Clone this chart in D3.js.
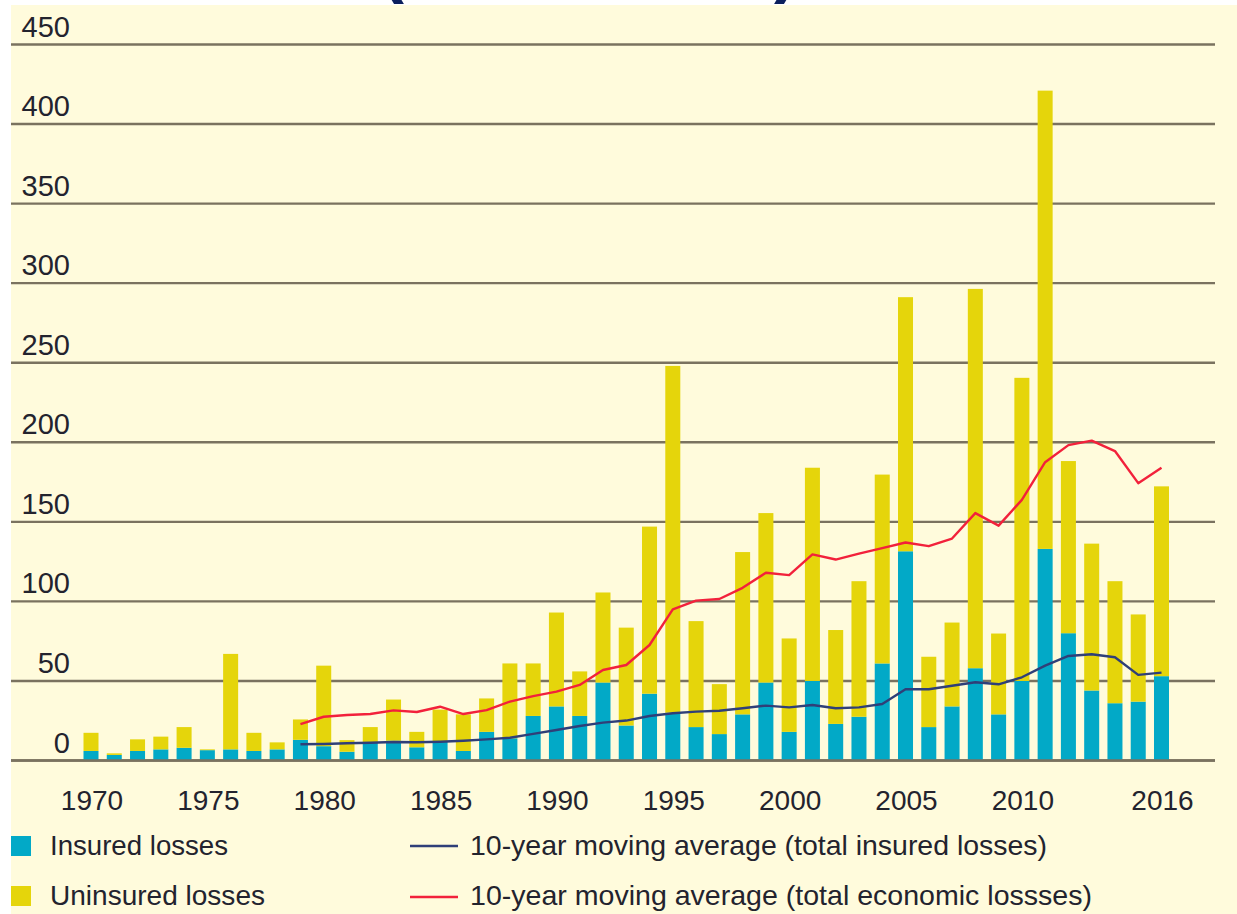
<!DOCTYPE html>
<html>
<head>
<meta charset="utf-8">
<script src="https://cdn.jsdelivr.net/npm/d3@7/dist/d3.min.js"></script>
<style>
  html, body { margin: 0; padding: 0; background: #ffffff; }
  svg { display: block; }
  text { font-family: "Liberation Sans", Arial, Helvetica, sans-serif; fill: #23232e; }
</style>
</head>
<body>
<svg id="chart" width="1237" height="914"></svg>
<script>
// ---- Data (USD bn) ----
const years = d3.range(1970, 2017);
const insured = [6, 3.5, 6, 7, 8, 6.5, 7, 6, 7, 13,
  9, 5.5, 11, 12.5, 8.3, 12, 6, 18, 14, 28,
  34, 28, 49, 22, 42, 30, 21, 16.6, 29, 49,
  18, 50, 23, 27.5, 61, 131.5, 21, 34, 58, 29,
  50, 133, 80, 44, 36, 37, 53];
const uninsured = [11.4, 1, 7.3, 8, 13, 0.5, 60, 11.4, 4.4, 12.8,
  50.6, 7.3, 10, 25.8, 9.7, 20, 23, 21, 47, 33,
  59, 28, 56.6, 61.5, 105, 218, 66.6, 31.4, 102, 106.5,
  58.7, 134, 59, 85.2, 118.7, 159.7, 44.2, 52.7, 238.4, 50.8,
  190.5, 288, 108.2, 92.3, 76.7, 54.8, 119.3];
const maYears = d3.range(1979, 2017);
const maInsured = [10.2, 10.4, 10.8, 11.2, 11.6, 11.5, 11.8, 12.4, 13.3, 14.3,
  16.7, 19.2, 21.7, 23.8, 25.1, 28, 29.7, 30.7, 31.3, 32.8,
  34.5, 33.4, 34.9, 32.8, 33.4, 35.5, 44.8, 44.8, 47, 49.2,
  47.9, 52.3, 59.6, 65.7, 66.8, 64.9, 53.8, 55.2];
const maTotal = [22.8, 27.5, 28.6, 29.2, 31.5, 30.5, 33.8, 29.2, 31.7, 37,
  40.5, 43.3, 47.5, 56.9, 60, 72.6, 95, 100.5, 101.5, 108.5,
  118, 116.5, 129.5, 126.3, 130, 133.5, 137, 134.7, 139.5, 155.5,
  147.6, 163.8, 187.5, 198.2, 201, 194.5, 174.3, 184];
const yTicks = [0, 50, 100, 150, 200, 250, 300, 350, 400, 450];
const xTicks = [1970, 1975, 1980, 1985, 1990, 1995, 2000, 2005, 2010, 2016];
const seriesNames = ["Insured losses", "Uninsured losses"];
const lineNames = ["10-year moving average (total insured losses)", "10-year moving average (total economic lossses)"];

// ---- Styles ----
const C_BLUE = "#02a9c7", C_YELLOW = "#e5d50b", C_NAVY = "#2f3f78", C_RED = "#f2213b";
const C_BG = "#fffbdc", C_GRID = "#7a725f";

const svg = d3.select("#chart");

// partially visible title glyphs at the top edge
svg.append("text").attr("x", 392).attr("y", -11).attr("text-anchor", "middle")
  .style("font-size", "72px").style("font-weight", "bold").style("fill", "#0b1f5e").text("(");
svg.append("text").attr("x", 786).attr("y", -11).attr("text-anchor", "middle")
  .style("font-size", "72px").style("font-weight", "bold").style("fill", "#0b1f5e").text(")");

svg.append("rect").attr("x", 11).attr("y", 5).attr("width", 1237 - 11).attr("height", 914 - 5).attr("fill", C_BG);

const x = d3.scalePoint().domain(years).range([91, 1161.5]);
const bw = x.step() * 0.645;
const y = d3.scaleLinear().domain([0, 450]).range([760.5, 44.5]);

// gridlines
svg.append("g").selectAll("line").data(yTicks).join("line")
  .attr("x1", 11).attr("x2", 1215)
  .attr("y1", d => y(d)).attr("y2", d => y(d))
  .attr("stroke", C_GRID).attr("stroke-width", 2.4);

// y labels
svg.append("g").selectAll("text").data(yTicks).join("text")
  .attr("x", 70).attr("y", d => y(d) - 8)
  .attr("text-anchor", "end")
  .style("font-size", "29px")
  .text(d => d);

// stacked bars
const rows = years.map((yr, i) => ({ year: yr, insured: insured[i], uninsured: uninsured[i] }));
const stack = d3.stack().keys(["insured", "uninsured"])(rows);
const colors = { insured: C_BLUE, uninsured: C_YELLOW };
svg.append("g").selectAll("g").data(stack).join("g")
  .attr("fill", s => colors[s.key])
  .selectAll("rect").data(s => s).join("rect")
  .attr("x", d => x(d.data.year) - bw / 2)
  .attr("width", bw)
  .attr("y", d => y(d[1]))
  .attr("height", d => y(d[0]) - y(d[1]));

// baseline redraw
svg.append("line").attr("x1", 11).attr("x2", 1215).attr("y1", y(0)).attr("y2", y(0))
  .attr("stroke", C_GRID).attr("stroke-width", 2.4);

// moving average lines
const line = d3.line().x(d => x(d[0])).y(d => y(d[1]));
svg.append("path").datum(maYears.map((yr, i) => [yr, maInsured[i]]))
  .attr("d", line).attr("fill", "none").attr("stroke", C_NAVY).attr("stroke-width", 2.4)
  .attr("stroke-linejoin", "round");
svg.append("path").datum(maYears.map((yr, i) => [yr, maTotal[i]]))
  .attr("d", line).attr("fill", "none").attr("stroke", C_RED).attr("stroke-width", 2.4)
  .attr("stroke-linejoin", "round");

// x labels
svg.append("g").selectAll("text").data(xTicks).join("text")
  .attr("x", d => x(d) + 1).attr("y", 810)
  .attr("text-anchor", "middle")
  .style("font-size", "28px")
  .text(d => d);

// legend
const leg = svg.append("g");
leg.append("rect").attr("x", 11).attr("y", 836).attr("width", 20).attr("height", 20).attr("fill", C_BLUE);
leg.append("rect").attr("x", 11).attr("y", 886).attr("width", 20).attr("height", 20).attr("fill", C_YELLOW);
leg.append("text").attr("x", 50).attr("y", 855).style("font-size", "28px")
  .attr("textLength", 178).attr("lengthAdjust", "spacingAndGlyphs").text(seriesNames[0]);
leg.append("text").attr("x", 50).attr("y", 905).style("font-size", "28px")
  .attr("textLength", 215).attr("lengthAdjust", "spacingAndGlyphs").text(seriesNames[1]);
leg.append("line").attr("x1", 410).attr("x2", 458).attr("y1", 846).attr("y2", 846)
  .attr("stroke", C_NAVY).attr("stroke-width", 2.6);
leg.append("line").attr("x1", 410).attr("x2", 458).attr("y1", 897).attr("y2", 897)
  .attr("stroke", C_RED).attr("stroke-width", 2.6);
leg.append("text").attr("x", 470).attr("y", 855).style("font-size", "28px")
  .attr("textLength", 577).attr("lengthAdjust", "spacingAndGlyphs").text(lineNames[0]);
leg.append("text").attr("x", 470).attr("y", 905).style("font-size", "28px")
  .attr("textLength", 622).attr("lengthAdjust", "spacingAndGlyphs").text(lineNames[1]);
</script>
</body>
</html>
